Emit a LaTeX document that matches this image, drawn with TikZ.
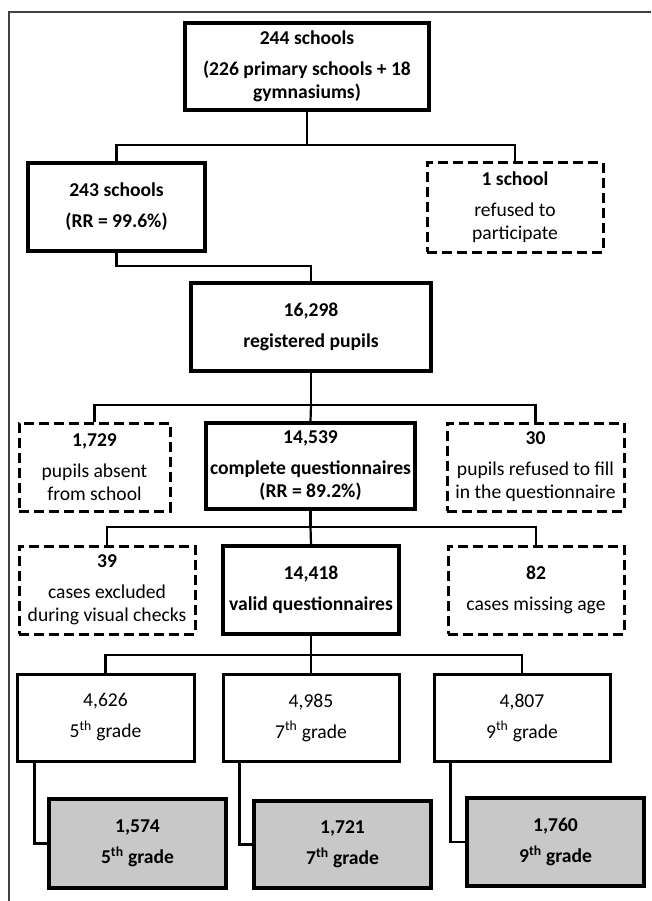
\documentclass[tikz,border=0pt]{standalone}
\usepackage{fontspec}
\setmainfont{Carlito}
\definecolor{boxgray}{RGB}{200,200,200}
\tikzset{
	box/.style={draw, line width=3.4pt, align=center, inner sep=0pt, font=\fontsize{19.6}{23}\selectfont},
	outbox/.style={box, line width=3pt, dash pattern=on 10pt off 5pt},
	gradebox/.style={box, line width=3pt},
	samplebox/.style={box, fill=boxgray},
	link/.style={line width=2.2pt}
}
\begin{document}
\begin{tikzpicture}[x=1pt, y=-1pt]
	\useasboundingbox (0,0) rectangle (651,901);
	\draw [line width=1.3pt, black!75] (651,12) -- (9,12) -- (9,901);
	\node[box, minimum width=244, minimum height=87] (schools) at (307,66.5) {\textbf{244 schools}\\[8pt]\textbf{(226 primary schools + 18}\\\textbf{gymnasiums)}};
	\node[box, minimum width=177, minimum height=88] (part) at (116.5,207) {\textbf{243 schools}\\[8pt]\textbf{(RR = 99.6\%)}};
	\node[outbox, minimum width=176, minimum height=89] (refused) at (515,207.5) {\textbf{1 school}\\[8pt]refused to\\participate};
	\node[box, minimum width=240, minimum height=88] (pupils) at (311,327) {\textbf{16,298}\\[8pt]\textbf{registered pupils}};
	\node[outbox, minimum width=151, minimum height=88] (absent) at (94.5,467) {\textbf{1,729}\\[8pt]pupils absent\\from school};
	\node[box, minimum width=209, minimum height=86] (complete) at (310.5,466) {\textbf{14,539}\\[8pt]\textbf{complete questionnaires}\\\textbf{(RR = 89.2\%)}};
	\node[outbox, minimum width=177, minimum height=88] (nofill) at (535.5,467) {\textbf{30}\\[8pt]pupils refused to fill\\in the questionnaire};
	\node[outbox, minimum width=176, minimum height=88] (excluded) at (107,590) {\textbf{39}\\[8pt]cases excluded\\during visual checks};
	\node[box, minimum width=176, minimum height=88] (valid) at (311,590) {\textbf{14,418}\\[8pt]\textbf{valid questionnaires}};
	\node[outbox, minimum width=176, minimum height=88] (noage) at (536,590) {\textbf{82}\\[8pt]cases missing age};
	\node[gradebox, minimum width=177, minimum height=87] (gfive) at (105.5,717.5) {4,626\\[8pt]5\textsuperscript{th} grade};
	\node[gradebox, minimum width=176, minimum height=87] (gseven) at (311,717.5) {4,985\\[8pt]7\textsuperscript{th} grade};
	\node[gradebox, minimum width=176, minimum height=87] (gnine) at (522,717.5) {4,807\\[8pt]9\textsuperscript{th} grade};
	\node[samplebox, minimum width=177, minimum height=89] (sfive) at (137.5,843.5) {\textbf{1,574}\\[8pt]\textbf{5\textsuperscript{th} grade}};
	\node[samplebox, minimum width=177, minimum height=87] (sseven) at (342.5,844.5) {\textbf{1,721}\\[8pt]\textbf{7\textsuperscript{th} grade}};
	\node[samplebox, minimum width=177, minimum height=88] (snine) at (555.5,842) {\textbf{1,760}\\[8pt]\textbf{9\textsuperscript{th} grade}};
	\coordinate (jschools) at (307,145);
	\draw [link] (schools.south) -- (jschools);
	\draw [link] (part.north) |- (jschools) -| (refused.north);
	\draw [link] (part.south) -- ++(0,13) -| (pupils.north);
	\coordinate (jpupils) at (311,405);
	\draw [link] (pupils.south) -- (jpupils);
	\draw [link] (absent.north) |- (jpupils) -| (nofill.north);
	\draw [link] (jpupils) -- (complete.north);
	\coordinate (jcomplete) at (310.5,527);
	\draw [link] (complete.south) -- (jcomplete);
	\draw [link] (excluded.north) |- (jcomplete) -| (noage.north);
	\draw [link] (jcomplete) -- (valid.north);
	\coordinate (jvalid) at (311,655);
	\draw [link] (valid.south) -- (jvalid);
	\draw [link] (gfive.north) |- (jvalid) -| (gnine.north);
	\draw [link] (jvalid) -- (gseven.north);
	\draw [link] ([xshift=19pt]gfive.south west) |- (sfive.west);
	\draw [link] ([xshift=18pt]gseven.south west) |- (sseven.west);
	\draw [link] ([xshift=18pt]gnine.south west) |- (snine.west);
\end{tikzpicture}
\end{document}
